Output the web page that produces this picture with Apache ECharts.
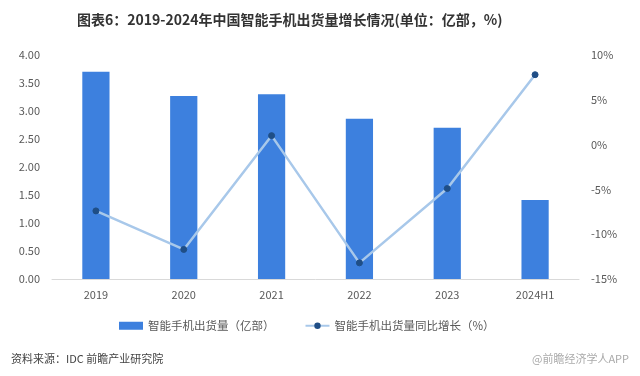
<!DOCTYPE html>
<html><head><meta charset="utf-8">
<script src="https://cdn.jsdelivr.net/npm/echarts@6/dist/echarts.min.js"></script>
<style>html,body{margin:0;padding:0;background:#fff}#c{width:640px;height:376px}</style>
</head><body><div id="c"></div>
<script>
const categories = ['2019','2020','2021','2022','2023','2024H1'];
const shipments = [3.70, 3.27, 3.30, 2.86, 2.70, 1.41];
const growth = [-7.4, -11.7, 1.0, -13.2, -4.9, 7.8];
const leftTicks = [0, 4, 0.5];
const rightTicks = [-15, 10, 5];

const chart = echarts.init(document.getElementById('c'));
const font = '"Noto Sans CJK SC","Noto Sans",sans-serif';
chart.setOption({
  animation: false,
  backgroundColor: '#fff',
  textStyle: {fontFamily: font},
  title: [{
    text: '图表6：2019-2024年中国智能手机出货量增长情况(单位：亿部，%)',
    left: 72, top: 8,
    textStyle: {fontSize: 14, fontWeight: 'bold', color: '#333', fontFamily: font}
  },{
    text: '资料来源：IDC 前瞻产业研究院',
    left: 6, top: 348,
    textStyle: {fontSize: 11, fontWeight: 'normal', color: '#444', fontFamily: font}
  },{
    text: '@前瞻经济学人APP',
    right: 6, top: 348,
    textStyle: {fontSize: 11, fontWeight: 'normal', color: '#aaa', fontFamily: font}
  }],
  grid: {left: 52, right: 61, top: 55, bottom: 97},
  legend: {
    top: 315, left: 114, itemGap: 30, itemWidth: 24, itemHeight: 8,
    textStyle: {fontSize: 11.5, color: '#595959', fontFamily: font},
    data: [
      {name: '智能手机出货量（亿部）', icon: 'rect'},
      {name: '智能手机出货量同比增长（%）'}
    ]
  },
  xAxis: {
    type: 'category', data: categories,
    axisLine: {lineStyle: {color: '#d9d9d9'}},
    axisTick: {show: false},
    axisLabel: {color: '#595959', fontSize: 11, margin: 10}
  },
  yAxis: [{
    type: 'value', min: leftTicks[0], max: leftTicks[1], interval: leftTicks[2],
    splitLine: {show: false}, axisLine: {show: false}, axisTick: {show: false},
    axisLabel: {color: '#595959', fontSize: 11, margin: 12, formatter: v => v.toFixed(2)}
  },{
    type: 'value', min: rightTicks[0], max: rightTicks[1], interval: rightTicks[2],
    splitLine: {show: false}, axisLine: {show: false}, axisTick: {show: false},
    axisLabel: {color: '#595959', fontSize: 11, margin: 12, formatter: v => v + '%'}
  }],
  series: [{
    name: '智能手机出货量（亿部）', type: 'bar', data: shipments,
    barWidth: '31%', itemStyle: {color: '#3d80de'}
  },{
    name: '智能手机出货量同比增长（%）', type: 'line', yAxisIndex: 1, data: growth,
    symbol: 'circle', symbolSize: 6,
    lineStyle: {color: '#a8c8ea', width: 2.5},
    itemStyle: {color: '#1f4e86', borderColor: '#1f4e86'}
  }]
});
</script></body></html>
